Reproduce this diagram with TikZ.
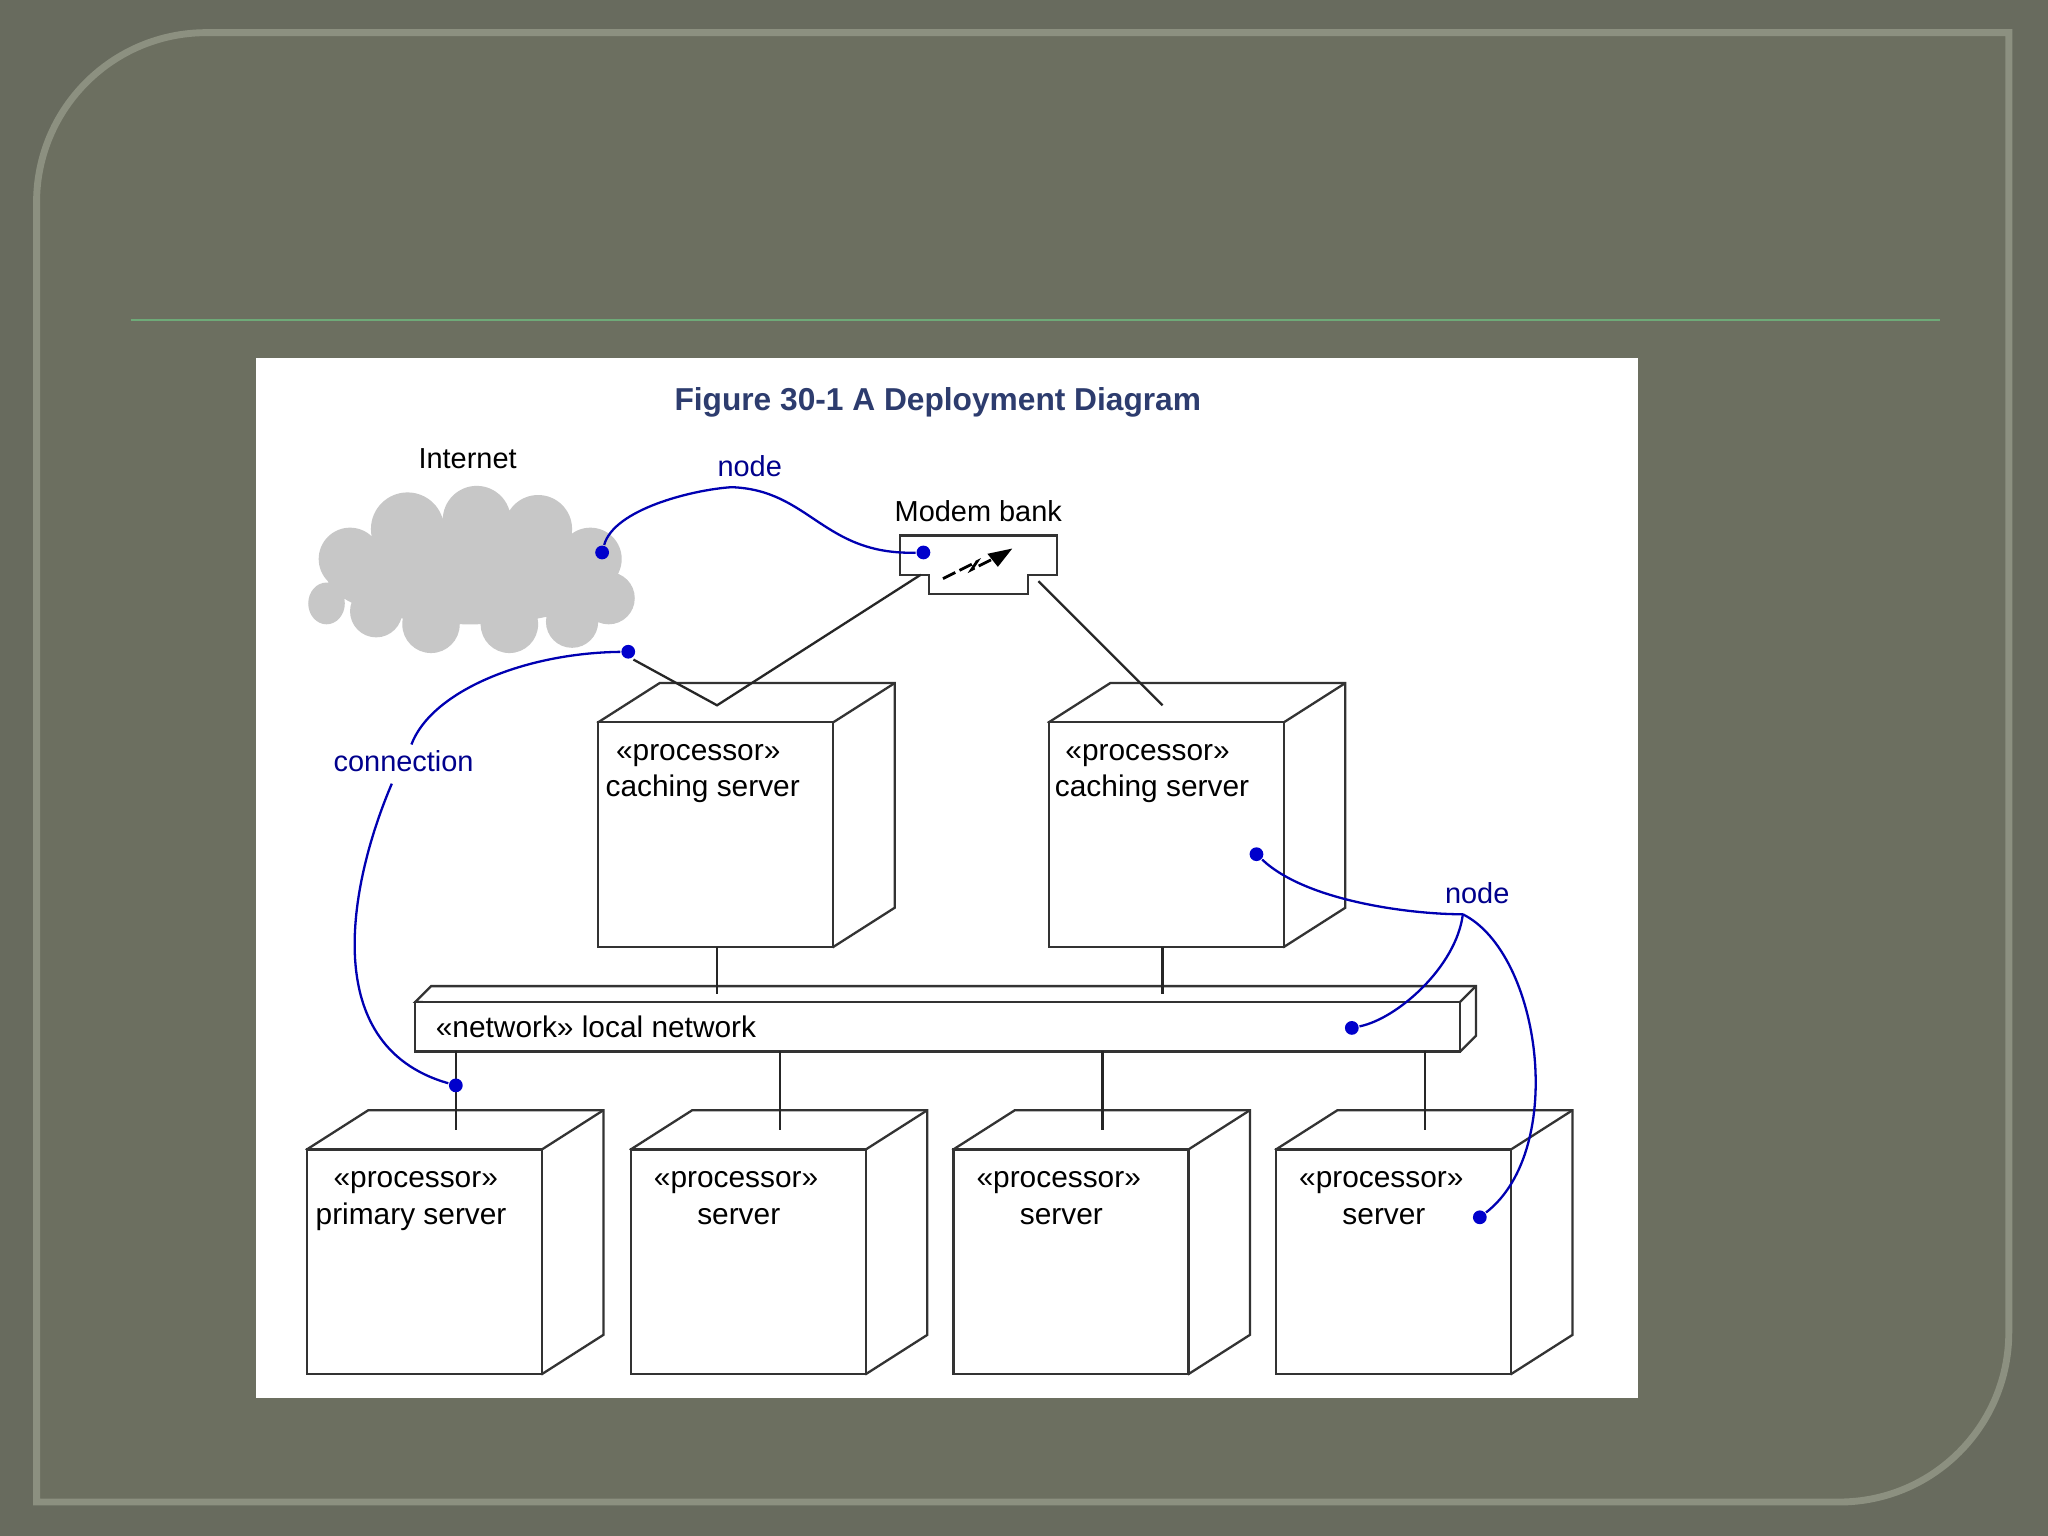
\documentclass[tikz,border=0pt]{standalone}
\usepackage{fontspec}
\setmainfont{Liberation Sans}
\begin{document}
\begin{tikzpicture}[x=0.01cm,y=-0.01cm,
  box/.style={draw=black!80,line width=0.5pt,fill=white},
  lbl/.style={font=\fontsize{6.5}{8}\selectfont,align=left,anchor=north west,inner sep=0pt},
  ann/.style={text=blue!55!black,font=\fontsize{6.3}{7.5}\selectfont},
  bl/.style={draw=blue!70!black,line width=0.5pt},
  dot/.style={circle,fill=blue!80!black,inner sep=0pt,minimum size=3pt},
  conn/.style={draw=black!85,line width=0.5pt}]
\useasboundingbox (0,0) rectangle (1568,1176);
\fill[color={rgb,255:red,104;green,107;blue,94}] (0,0) rectangle (1568,1176);
\draw[fill={rgb,255:red,108;green,111;blue,96},draw={rgb,255:red,140;green,144;blue,128},line width=1.5pt]
  (28,155) arc[start angle=180,end angle=270,radius=130] -- (1538,25) -- (1538,1020)
  arc[start angle=0,end angle=90,radius=130] -- (28,1150) -- cycle;
\draw[color={rgb,255:red,110;green,170;blue,120},line width=0.6pt] (100,245) -- (1485,245);
\fill[white] (196,274) rectangle (1254,1070);
\node[font=\bfseries\fontsize{6.9}{8}\selectfont,text={rgb,255:red,45;green,60;blue,110}] (title) at (718,308) {Figure 30-1 A Deployment Diagram};
% cloud
\node[font=\fontsize{6.3}{7.5}\selectfont] (inet) at (358,351) {Internet};
\fill[black!22] (250,462) circle[x radius=14,y radius=16]
 (268,428) circle[radius=24] (312,405) circle[radius=28] (365,398) circle[radius=26]
 (412,405) circle[radius=26] (452,428) circle[radius=24] (466,458) circle[radius=20]
 (438,476) circle[radius=20] (390,478) circle[radius=22] (330,478) circle[radius=22]
 (288,468) circle[radius=20] (360,440) circle[x radius=110,y radius=38];
\coordinate (cloud) at (485,505);
% modem
\node[font=\fontsize{6.3}{7.5}\selectfont] (mlab) at (749,391) {Modem bank};
\draw[box] (689,410) -- (809,410) -- (809,440) -- (787,440) -- (787,455) -- (711,455) -- (711,440) -- (689,440) -- cycle;
\draw[line width=0.6pt,dash pattern=on 3pt off 1pt] (722,443) -- (748,430) -- (744,436) -- (760,428);
\fill (775,420) -- (756,424) -- (764,434) -- cycle;
\coordinate (mL) at (705,440); \coordinate (mR) at (795,445);
% 3D boxes
\newcommand{\cube}[3]{%
  \draw[box] (#1,#2) -- ++(47,-30) -- ++(180,0) -- ++(0,172) -- ++(-47,30) -- cycle;
  \draw[box] (#1,#2) rectangle ++(180,172);
  \draw[black!80,line width=0.5pt] (#1+180,#2) -- ++(47,-30);}
\cube{458}{553}{c1} \cube{803}{553}{c2}
\cube{235}{880}{s1} \cube{483}{880}{s2} \cube{730}{880}{s3} \cube{977}{880}{s4}
\node[lbl] (t1) at (463,569) {\hspace*{0.35em}«processor»\\caching server};
\node[lbl] (t2) at (807,569) {\hspace*{0.35em}«processor»\\caching server};
\node[lbl] (t3) at (241,896) {\hspace*{0.6em}«processor»\\primary server};
\node[lbl] (t4) at (500,896) {«processor»\\\hspace*{1.45em}server};
\node[lbl] (t5) at (747,896) {«processor»\\\hspace*{1.45em}server};
\node[lbl] (t6) at (994,896) {«processor»\\\hspace*{1.45em}server};
% network
\draw[box] (318,767) -- (330,755) -- (1130,755) -- (1130,793) -- (1118,805) -- cycle;
\draw[box] (318,767) rectangle (1118,805);
\draw[black!80,line width=0.5pt] (1118,767) -- (1130,755);
\node[lbl] (net) at (333,777) {«network» local network};
% connections
\draw[conn] (cloud) -- (549,540) -- (mL);
\draw[conn] (mR) -- (890,540);
\draw[conn] (549,725) -- (549,761);
\draw[conn] (890,725) -- (890,761);
\foreach \x in {349,597,844,1091} \draw[conn] (\x,805) -- (\x,865);
% annotations
\node[ann] (n1) at (574,357) {node};
\node[ann] (cn) at (309,583) {connection};
\node[ann] (n2) at (1131,684) {node};
\node[dot] (d1) at (461,423) {}; \node[dot] (d2) at (707,423) {};
\node[dot] (d3) at (481,499) {}; \node[dot] (d4) at (349,831) {};
\node[dot] (d5) at (962,654) {}; \node[dot] (d6) at (1035,787) {};
\node[dot] (d7) at (1133,932) {};
\draw[bl] (d1) .. controls (470,390) and (530,375) .. (560,373) .. controls (620,375) and (630,425) .. (d2);
\draw[bl] (d3) .. controls (400,500) and (330,530) .. (315,570);
\draw[bl] (300,600) .. controls (270,670) and (240,800) .. (d4);
\draw[bl] (d5) .. controls (1000,690) and (1080,700) .. (1120,700);
\draw[bl] (1120,700) .. controls (1115,740) and (1070,780) .. (d6);
\draw[bl] (1120,700) .. controls (1180,730) and (1200,880) .. (d7);
\end{tikzpicture}
\end{document}
